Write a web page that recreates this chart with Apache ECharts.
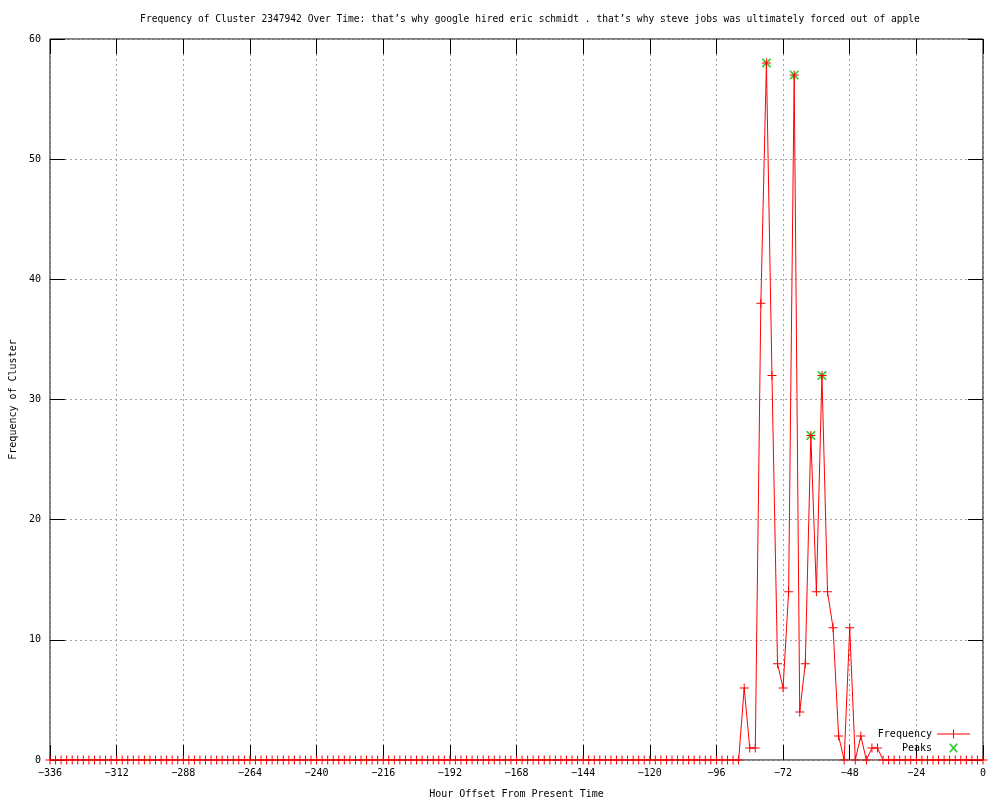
<!DOCTYPE html>
<html>
<head>
<meta charset="utf-8">
<script src="https://cdn.jsdelivr.net/npm/echarts@6/dist/echarts.min.js"></script>
<style>
html,body{margin:0;padding:0;background:#fff;}
#chart{width:1000px;height:800px;}
</style>
</head>
<body>
<div id="chart"></div>
<script>
// Hour offsets (every 2 hours from -336 to 0)
const hourStart = -336, hourEnd = 0, hourStep = 2;
const hours = [];
for (let h = hourStart; h <= hourEnd; h += hourStep) hours.push(h);

// Frequency values, one per hour offset above (169 values)
const frequency = [
  0,0,0,0,0,0,0,0,0,0,0,0,0,0,0,0,0,0,0,0,0,0,0,0,0,
  0,0,0,0,0,0,0,0,0,0,0,0,0,0,0,0,0,0,0,0,0,0,0,0,0,
  0,0,0,0,0,0,0,0,0,0,0,0,0,0,0,0,0,0,0,0,0,0,0,0,0,
  0,0,0,0,0,0,0,0,0,0,0,0,0,0,0,0,0,0,0,0,0,0,0,0,0,
  0,0,0,0,0,0,0,0,0,0,0,0,0,0,0,0,0,0,0,0,0,0,0,0,0,
  6,1,1,38,58,32,8,6,14,57,4,8,27,14,32,14,11,2,0,11,0,2,0,1,1,
  0,0,0,0,0,0,0,0,0,0,0,0,0,0,0,0,0,0,0
];

// Peaks
const peakHours = [-78, -68, -62, -58];
const peakValues = [58, 57, 27, 32];

// Axis ticks
const xMin = -336, xMax = 0, xInterval = 24;
const yMin = 0, yMax = 60, yInterval = 10;

const titleText = 'Frequency of Cluster 2347942 Over Time: that\u2019s why google hired eric schmidt . that\u2019s why steve jobs was ultimately forced out of apple';
const xName = 'Hour Offset From Present Time';
const yName = 'Frequency of Cluster';

const FONT = 'DejaVu Sans Mono';
const plusPath = 'path://M0,4 L9,4 L9,5 L0,5 Z M4,0 L5,0 L5,9 L4,9 Z';
const xPath = 'path://M0,0 L1.2,0 L9,7.8 L9,9 L7.8,9 L0,1.2 Z M7.8,0 L9,0 L9,1.2 L1.2,9 L0,9 L0,7.8 Z';
const legendLinePath = 'path://M0,4 L33,4 L33,5 L0,5 Z M16,0 L17,0 L17,9 L16,9 Z';
const legendXPath = 'path://M0,0 L0.01,0 L0.01,0.01 Z M33,9 L32.99,9 L32.99,8.99 Z M12.5,0 L13.7,0 L20.5,7.8 L20.5,9 L19.3,9 L12.5,1.2 Z M19.3,0 L20.5,0 L20.5,1.2 L13.7,9 L12.5,9 L12.5,7.8 Z';

const freqData = hours.map((h, i) => [h, frequency[i]]);
const peakData = peakHours.map((h, i) => [h, peakValues[i]]);

const gridLine = {show: true, lineStyle: {color: '#a0a0a0', type: [2, 3], width: 1}};
const tick = {show: true, inside: true, length: 15, lineStyle: {color: '#000'}};
const noLine = {show: false, onZero: false};

const chart = echarts.init(document.getElementById('chart'), null, {renderer: 'canvas'});
chart.setOption({
  animation: false,
  backgroundColor: '#ffffff',
  title: {
    text: titleText, left: 525, top: 9, textAlign: 'center',
    textStyle: {fontFamily: FONT, fontSize: 9.6, fontWeight: 'normal', color: '#000'}
  },
  legend: {
    orient: 'vertical', right: 25, top: 724, align: 'right',
    itemWidth: 33, itemHeight: 9, itemGap: 4,
    textStyle: {fontFamily: FONT, fontSize: 10, color: '#000'},
    data: [
      {name: 'Frequency', icon: legendLinePath, itemStyle: {color: '#ff0000'}},
      {name: 'Peaks', icon: legendXPath, itemStyle: {color: '#00c000'}}
    ]
  },
  grid: {left: 50, right: 17, top: 39, bottom: 40, show: true, borderColor: '#000', borderWidth: 1,
         backgroundColor: 'transparent', containLabel: false, outerBoundsMode: 'none'},
  xAxis: [{
    type: 'value', min: xMin, max: xMax, interval: xInterval,
    name: xName, nameLocation: 'middle', nameGap: 29,
    nameTextStyle: {fontFamily: FONT, fontSize: 10, color: '#000'},
    axisLine: noLine, axisTick: tick,
    axisLabel: {fontFamily: FONT, fontSize: 10, color: '#000', margin: 8, formatter: v => String(v).replace('-', '\u2212')},
    splitLine: gridLine
  }, {
    type: 'value', position: 'top', min: xMin, max: xMax, interval: xInterval,
    axisLine: noLine, axisTick: tick,
    axisLabel: {show: false}, splitLine: {show: false}
  }],
  yAxis: [{
    type: 'value', position: 'left', min: yMin, max: yMax, interval: yInterval,
    name: yName, nameLocation: 'middle', nameGap: 31, nameRotate: 90,
    nameTextStyle: {fontFamily: FONT, fontSize: 10, color: '#000'},
    axisLine: noLine, axisTick: tick,
    axisLabel: {fontFamily: FONT, fontSize: 10, color: '#000', margin: 9},
    splitLine: gridLine
  }, {
    type: 'value', position: 'right', min: yMin, max: yMax, interval: yInterval,
    axisLine: noLine, axisTick: tick,
    axisLabel: {show: false}, splitLine: {show: false}
  }],
  series: [{
    name: 'Frequency', type: 'line', data: freqData,
    symbol: plusPath, symbolSize: 9, showAllSymbol: true,
    lineStyle: {color: '#ff0000', width: 1},
    itemStyle: {color: '#ff0000'},
    z: 3
  }, {
    name: 'Peaks', type: 'scatter', data: peakData,
    symbol: xPath, symbolSize: 9,
    itemStyle: {color: '#00c000'},
    z: 2
  }]
});
</script>
</body>
</html>
